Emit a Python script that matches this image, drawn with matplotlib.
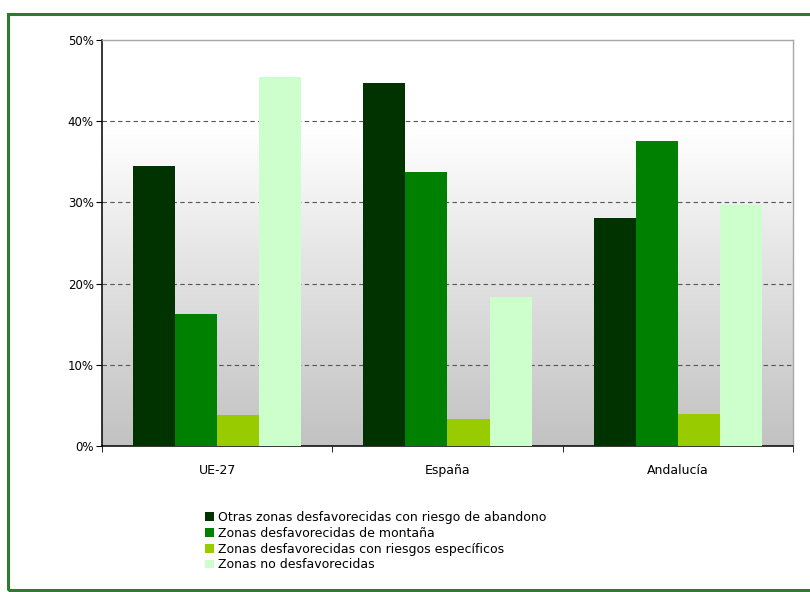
import numpy as np
import matplotlib
matplotlib.use("Agg")
import matplotlib.pyplot as plt
from matplotlib.patches import Rectangle
from matplotlib.colors import LinearSegmentedColormap

# data (percent)
categories = ["UE-27", "España", "Andalucía"]
series_names = [
    "Otras zonas desfavorecidas con riesgo de abandono",
    "Zonas desfavorecidas de montaña",
    "Zonas desfavorecidas con riesgos específicos",
    "Zonas no desfavorecidas",
]
otras = [34.5, 44.7, 28.1]
montana = [16.3, 33.7, 37.6]
especificos = [3.8, 3.3, 4.0]
no_desfav = [45.5, 18.3, 29.7]
y_ticks = [0, 10, 20, 30, 40, 50]

colors = ["#003300", "#008000", "#99cc00", "#ccffcc"]
all_series = [otras, montana, especificos, no_desfav]

plt.rcParams["font.family"] = ["DejaVu Sans"]

fig = plt.figure(figsize=(8.1, 5.92), dpi=100)
fig.patch.set_facecolor("white")

# green outer frame
fig.patches.append(Rectangle((8 / 810, 2 / 592), 0.995, 0.973, transform=fig.transFigure,
                             fill=False, edgecolor="#2f7a2f", linewidth=2.2))

ax = fig.add_axes([102 / 810, 1 - 446 / 592, (793 - 102) / 810, (446 - 40) / 592])

# grey-to-white gradient background
grad = LinearSegmentedColormap.from_list("bg", [(0, "#c2c2c2"), (0.45, "#e4e4e4"), (0.78, "#ffffff"), (1, "#ffffff")])
ax.imshow(np.linspace(0, 1, 256).reshape(-1, 1), cmap=grad, aspect="auto",
          extent=[-0.5, 2.5, 0, 50], origin="lower", zorder=0)

x = np.arange(len(categories))
w = 0.1826
for i, (vals, col, name) in enumerate(zip(all_series, colors, series_names)):
    ax.bar(x + (i - 1.5) * w, vals, width=w, color=col, label=name, zorder=3)

ax.set_xlim(-0.5, 2.5)
ax.set_ylim(0, 50)
ax.set_yticks(y_ticks)
ax.set_yticklabels([f"{t}%" for t in y_ticks], fontsize=8.5)
ax.set_xticks(x)
ax.set_xticklabels(categories, fontsize=9)
ax.set_xticks([-0.5, 0.5, 1.5, 2.5], minor=True)
ax.tick_params(axis="x", which="major", length=0, pad=13)
ax.tick_params(axis="x", which="minor", length=4, direction="out")
ax.tick_params(axis="y", length=4, direction="out", pad=2)

for t in y_ticks[1:-1]:
    ax.axhline(t, color="#555555", linestyle=(0, (4, 3)), linewidth=0.8, zorder=1)

ax.spines["left"].set_color("black")
ax.spines["bottom"].set_color("black")
ax.spines["left"].set_linewidth(1.1)
ax.spines["bottom"].set_linewidth(1.1)
for s in ["top", "right"]:
    ax.spines[s].set_color("#a8a8a8")
    ax.spines[s].set_linewidth(1.0)

leg = fig.legend(loc="upper left", bbox_to_anchor=(200 / 810, 1 - 506 / 592), frameon=False,
                 fontsize=9, handlelength=0.7, handleheight=0.7, handletextpad=0.3,
                 labelspacing=0.22, borderaxespad=0)

fig.savefig("out.png", dpi=100, facecolor="white")
